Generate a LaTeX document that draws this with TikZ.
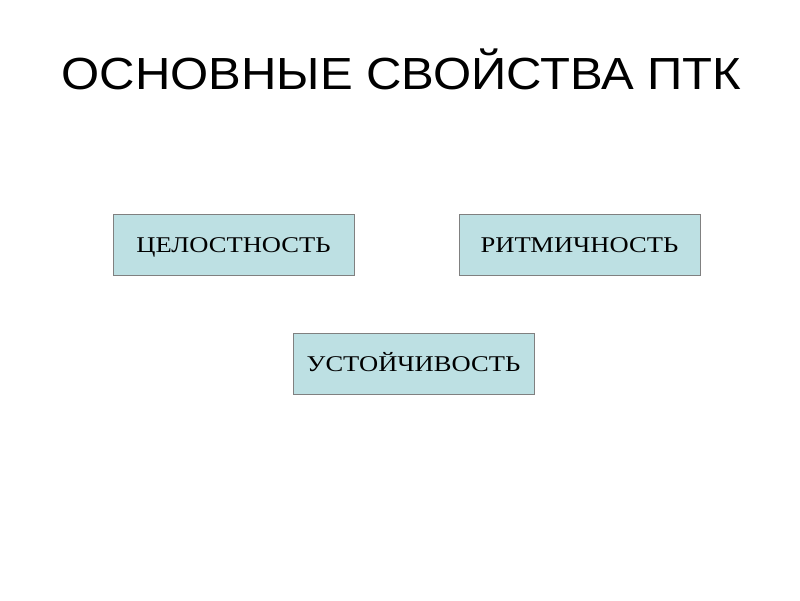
\documentclass[tikz,border=0pt]{standalone}
\usepackage{fontspec}
\setmainfont{Liberation Serif}
\newfontfamily\titlefont[FakeStretch=1.09]{Liberation Sans}
\newfontfamily\boxfont[FakeStretch=1.18]{Liberation Serif}
\tikzset{
  propbox/.style={draw=black!50, line width=1pt, fill={rgb,255:red,189;green,224;blue,227}, minimum width=241pt, minimum height=61pt, inner sep=0pt, text height=15pt, text depth=0pt, font=\boxfont\fontsize{22.5}{26}\selectfont},
}
\begin{document}
\begin{tikzpicture}[x=1pt,y=-1pt]
\useasboundingbox (0,0) rectangle (800,600);
\node[font=\titlefont\fontsize{45}{50}\selectfont, anchor=base] (title) at (401.5,89) {ОСНОВНЫЕ СВОЙСТВА ПТК};
\node[propbox] (a) at (233.5,244.5) {ЦЕЛОСТНОСТЬ};
\node[propbox] (b) at (579.5,244.5) {РИТМИЧНОСТЬ};
\node[propbox] (c) at (413.5,364) {УСТОЙЧИВОСТЬ};
\end{tikzpicture}
\end{document}
